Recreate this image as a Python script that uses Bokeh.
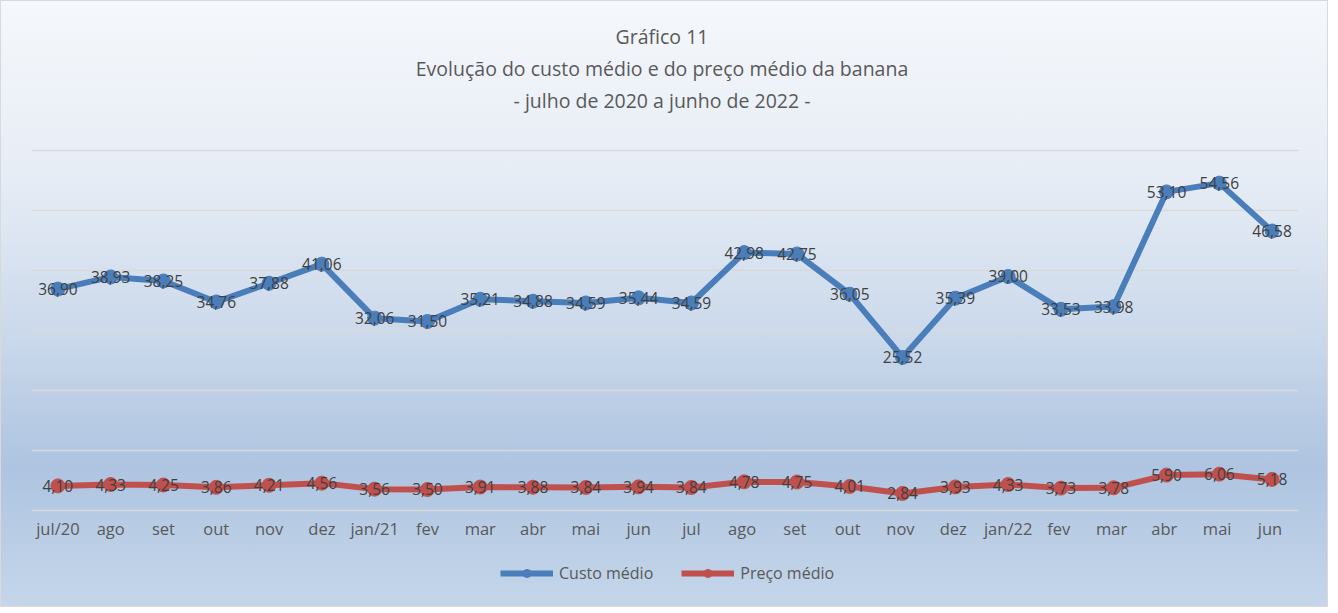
from bokeh.plotting import figure
from bokeh.models import Legend, LegendItem, ColumnDataSource, Range1d, FixedTicker, Label
from bokeh.core.properties import value
from bokeh.embed import file_html
from bokeh.resources import INLINE

months = ["jul/20", "ago", "set", "out", "nov", "dez", "jan/21", "fev", "mar", "abr", "mai", "jun",
          "jul", "ago ", "set ", "out ", "nov ", "dez ", "jan/22", "fev ", "mar ", "abr ", "mai ", "jun "]
custo = [36.90, 38.93, 38.25, 34.76, 37.88, 41.06, 32.06, 31.50, 35.21, 34.88, 34.59, 35.44,
         34.59, 42.98, 42.75, 36.05, 25.52, 35.39, 39.00, 33.53, 33.98, 53.10, 54.56, 46.58]
preco = [4.10, 4.33, 4.25, 3.86, 4.21, 4.56, 3.56, 3.50, 3.91, 3.88, 3.84, 3.94,
         3.84, 4.78, 4.75, 4.01, 2.84, 3.93, 4.33, 3.73, 3.78, 5.90, 6.06, 5.18]
title_lines = ["Gráfico 11", "Evolução do custo médio e do preço médio da banana",
               "- julho de 2020 a junho de 2022 -"]
grid_ticks = [10, 20, 30, 40, 50, 60]

FONT = "Open Sans"
BLUE = "#4a7ebb"
RED = "#c0504d"
GRID = "#d9d9d9"
TXT = "#404040"
AX = "#595959"

def fmt(v):
    return f"{v:.2f}".replace(".", ",")

src = ColumnDataSource(dict(
    m=months, c=custo, p=preco,
    cl=[fmt(v) for v in custo], pl=[fmt(v) for v in preco],
))

# frame spans the whole canvas height; the value axis is 6 px per unit, 0 at 509 px from top
p = figure(frame_width=1267, frame_height=605, x_range=months, y_range=Range1d(-16.0, 84.8333),
           output_backend="svg", toolbar_location=None, y_axis_location=None,
           min_border_left=30, min_border_right=29, min_border_top=0, min_border_bottom=0)
p.styles = {"background": "linear-gradient(to bottom, #f5f8fc 0%, #e6ecf5 30%, #cbd9eb 55%, #aec4e0 77%, #c5d6ea 100%)",
            "border": "1px solid #d9d9d9", "box-sizing": "border-box"}
p.background_fill_alpha = 0
p.border_fill_alpha = 0
p.outline_line_color = None

p.xgrid.grid_line_color = None
p.ygrid.grid_line_color = GRID
p.ygrid.grid_line_width = 1.5
p.ygrid.ticker = FixedTicker(ticks=grid_ticks)

xa = p.xaxis[0]
xa.fixed_location = 0
xa.axis_line_color = GRID
xa.axis_line_width = 1.5
xa.major_tick_line_color = None
xa.minor_tick_line_color = None
xa.major_tick_out = 0
xa.major_tick_in = 0
xa.major_label_standoff = 7
xa.major_label_text_font = FONT
xa.major_label_text_font_size = "16.5px"
xa.major_label_text_color = AX

l1 = p.line("m", "c", source=src, line_color=BLUE, line_width=6)
s1 = p.scatter("m", "c", source=src, size=14, fill_color=BLUE, line_color=BLUE)
l2 = p.line("m", "p", source=src, line_color=RED, line_width=6)
s2 = p.scatter("m", "p", source=src, size=14, fill_color=RED, line_color=RED)

for col, ycol in (("cl", "c"), ("pl", "p")):
    p.text("m", ycol, text=col, source=src, text_align="center", text_baseline="middle",
           text_font=value(FONT), text_font_size="15.5px", text_color=TXT)

p.title = None
for t, y in zip(title_lines, [79.0, 73.67, 68.33]):
    p.add_layout(Label(x=630.5, y=y, x_units="screen", y_units="data", text=t,
                       text_align="center", text_baseline="middle", text_font=FONT,
                       text_font_size="19.5px", text_color=AX))

legend = Legend(items=[LegendItem(label="Custo médio", renderers=[l1, s1]),
                       LegendItem(label="Preço médio", renderers=[l2, s2])],
                orientation="horizontal", location=(469, 22),
                border_line_color=None, background_fill_alpha=0,
                label_text_font=FONT, label_text_font_size="16px", label_text_color=AX,
                glyph_width=53, label_standoff=6, spacing=28, padding=0, margin=0)
p.add_layout(legend, "center")

open("out.html", "w").write(file_html(p, INLINE))
